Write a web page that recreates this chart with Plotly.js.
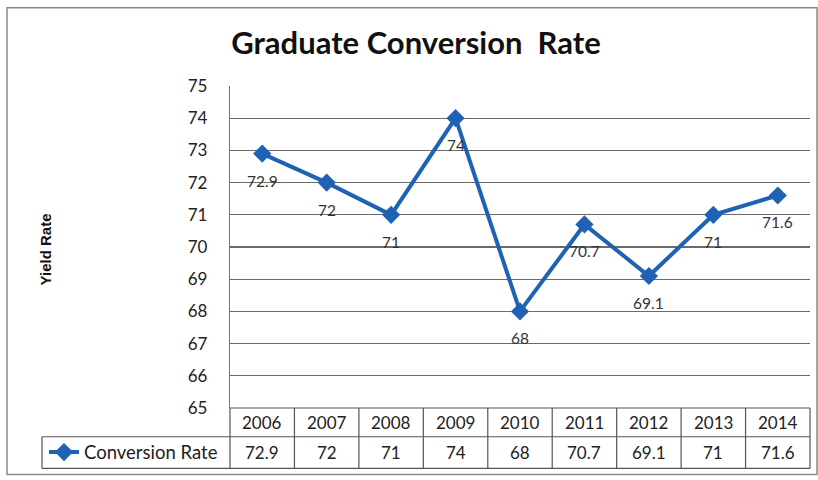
<!DOCTYPE html>
<html>
<head>
<meta charset="utf-8">
<script src="https://cdn.plot.ly/plotly-3.0.1.min.js"></script>
<style>html,body{margin:0;padding:0;background:#fff;}#chart{width:818px;height:480px;}</style>
</head>
<body>
<div id="chart"></div>
<script>
// ---- data ----
var years = ["2006", "2007", "2008", "2009", "2010", "2011", "2012", "2013", "2014"];
var conversionRate = [72.9, 72, 71, 74, 68, 70.7, 69.1, 71, 71.6];
var seriesName = "Conversion Rate";
var yTicks = [65, 66, 67, 68, 69, 70, 71, 72, 73, 74, 75];

// ---- layout helpers ----
var W = 818, H = 480;
var M = {l: 230, r: 8, t: 86, b: 69};
var pw = W - M.l - M.r, ph = H - M.t - M.b;
function px(x) { return (x - M.l) / pw; }
function py(y) { return (H - M.b - y) / ph; }

var lineColor = "#1f62b3";
var gridColor = "#6a6a6a";
var txtFont = "Lato, 'Open Sans', sans-serif";
var n = years.length;
var idx = years.map(function (_, i) { return i; });

var shapes = [];
var annotations = [];

// outer chart border
shapes.push({type: "rect", xref: "paper", yref: "paper",
  x0: px(7), x1: px(817), y0: py(478), y1: py(7),
  line: {color: "#8a8a8a", width: 1.5}, fillcolor: "rgba(0,0,0,0)", layer: "below"});

// data table
var rowTop = py(411), rowMid = py(440), rowBot = py(472);
var tblL = px(42), tblR = 1;
var tline = {color: "#555", width: 1.2};
shapes.push({type: "line", xref: "paper", yref: "paper", x0: 0, x1: tblR, y0: rowTop, y1: rowTop, line: tline});
shapes.push({type: "line", xref: "paper", yref: "paper", x0: tblL, x1: tblR, y0: rowMid, y1: rowMid, line: tline});
shapes.push({type: "line", xref: "paper", yref: "paper", x0: tblL, x1: tblR, y0: rowBot, y1: rowBot, line: tline});
shapes.push({type: "line", xref: "paper", yref: "paper", x0: tblL, x1: tblL, y0: rowMid, y1: rowBot, line: tline});
shapes.push({type: "line", xref: "paper", yref: "paper", x0: 0, x1: 0, y0: rowTop, y1: rowBot, line: tline});
shapes.push({type: "line", xref: "paper", yref: "paper", x0: tblR, x1: tblR, y0: rowTop, y1: rowBot, line: tline});
for (var i = 0; i < n - 1; i++) {
  shapes.push({type: "line", xref: "x", yref: "paper", x0: i + 0.5, x1: i + 0.5, y0: rowTop, y1: rowBot, line: tline});
}
years.forEach(function (yr, i) {
  annotations.push({xref: "x", yref: "paper", x: i, y: py(426), text: yr, showarrow: false,
    font: {family: txtFont, size: 17, color: "#222"}, xanchor: "center", yanchor: "middle"});
  annotations.push({xref: "x", yref: "paper", x: i, y: py(456), text: String(conversionRate[i]), showarrow: false,
    font: {family: txtFont, size: 17, color: "#222"}, xanchor: "center", yanchor: "middle"});
});

// data labels below points
conversionRate.forEach(function (v, i) {
  annotations.push({xref: "x", yref: "y", x: i, y: v, yshift: -27, text: String(v), showarrow: false,
    font: {family: txtFont, size: 15.5, color: "#333"}, xanchor: "center", yanchor: "middle"});
});

// y-axis title
annotations.push({xref: "paper", yref: "paper", x: px(45), y: py(251), text: "<b>Yield Rate</b>",
  textangle: -90, showarrow: false, font: {family: "'Liberation Sans', Arial, sans-serif", size: 15, color: "#111"},
  xanchor: "center", yanchor: "middle"});

var trace = {
  x: idx, y: conversionRate, type: "scatter", mode: "lines+markers", name: seriesName,
  line: {color: lineColor, width: 4},
  marker: {symbol: "diamond", size: 14, color: lineColor},
  hoverinfo: "skip"
};

var layout = {
  width: W, height: H,
  margin: M,
  paper_bgcolor: "#fff", plot_bgcolor: "#fff",
  title: {text: "<b>Graduate Conversion  Rate</b>", xref: "container", x: 416 / W, xanchor: "center",
    yref: "container", y: 1 - 43 / H, yanchor: "middle",
    font: {family: txtFont, size: 31, color: "#111"}},
  xaxis: {range: [-0.5, n - 0.5], showticklabels: false, showgrid: false, zeroline: false, showline: false, fixedrange: true},
  yaxis: {range: [65, 75], tickvals: yTicks, ticktext: yTicks.map(String), showgrid: true, gridcolor: gridColor, gridwidth: 1.2,
    zeroline: false, showline: true, linecolor: "#777", linewidth: 1.2, ticks: "", ticklabelstandoff: 18,
    tickfont: {family: txtFont, size: 17, color: "#222"}, fixedrange: true},
  showlegend: true,
  legend: {x: px(44), xanchor: "left", y: py(456), yanchor: "middle", bgcolor: "rgba(0,0,0,0)",
    font: {family: txtFont, size: 18.5, color: "#222"}, itemwidth: 30},
  shapes: shapes,
  annotations: annotations
};

Plotly.newPlot("chart", [trace], layout, {displayModeBar: false, staticPlot: true});
</script>
</body>
</html>
